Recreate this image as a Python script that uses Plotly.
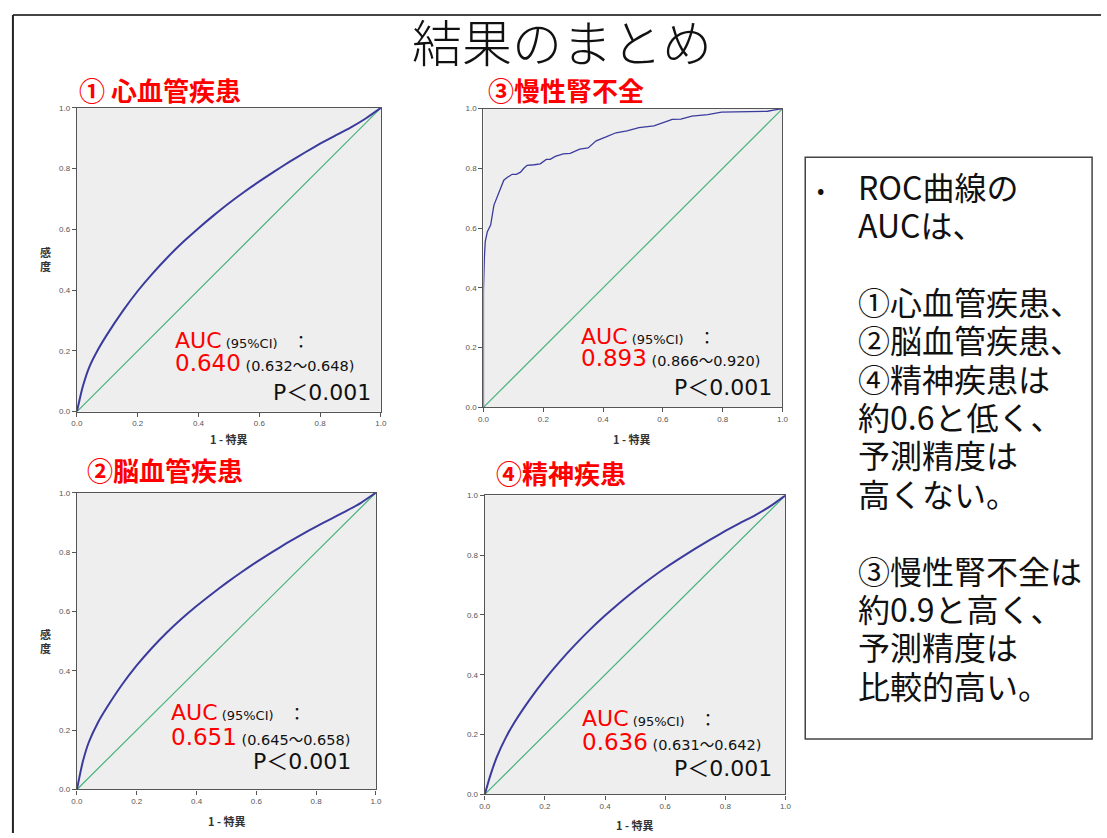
import plotly.graph_objects as go

W, H = 1107, 838

# ROC curves: 1 - specificity grid shared by the three smooth curves
fpr_grid = [0, 0.01, 0.02, 0.04, 0.07, 0.1, 0.15, 0.2, 0.25, 0.3, 0.35, 0.4, 0.45,
            0.5, 0.55, 0.6, 0.65, 0.7, 0.75, 0.8, 0.85, 0.9, 0.95, 1.0]
tpr_cvd = [0, 0.045, 0.085, 0.145, 0.205, 0.255, 0.33, 0.397, 0.456, 0.51, 0.559,
           0.604, 0.646, 0.686, 0.723, 0.758, 0.791, 0.823, 0.853, 0.882, 0.909,
           0.935, 0.965, 1.0]
tpr_cbv = [0, 0.05, 0.095, 0.16, 0.225, 0.276, 0.352, 0.418, 0.476, 0.528, 0.575,
           0.618, 0.658, 0.696, 0.732, 0.766, 0.798, 0.829, 0.858, 0.886, 0.912,
           0.938, 0.966, 1.0]
tpr_psy = [0, 0.035, 0.068, 0.125, 0.19, 0.243, 0.318, 0.385, 0.445, 0.5, 0.551,
           0.598, 0.642, 0.683, 0.721, 0.757, 0.79, 0.822, 0.852, 0.881, 0.908,
           0.934, 0.964, 1.0]

# chronic kidney disease curve (stepped empirical ROC)
fpr_ckd = [0, 0, 0.003, 0.006, 0.013, 0.024, 0.035, 0.052, 0.068, 0.08, 0.096, 0.11,
           0.124, 0.135, 0.146, 0.17, 0.19, 0.21, 0.223, 0.24, 0.267, 0.29, 0.322,
           0.35, 0.377, 0.41, 0.443, 0.48, 0.52, 0.57, 0.609, 0.62, 0.631, 0.66,
           0.697, 0.75, 0.796, 0.85, 0.9, 0.95, 0.97, 1.0]
tpr_ckd = [0, 0.39, 0.5, 0.555, 0.588, 0.61, 0.677, 0.72, 0.76, 0.77, 0.78, 0.78,
           0.787, 0.80, 0.81, 0.812, 0.815, 0.83, 0.83, 0.84, 0.848, 0.85, 0.864,
           0.868, 0.892, 0.905, 0.919, 0.925, 0.936, 0.942, 0.958, 0.96, 0.964,
           0.965, 0.975, 0.98, 0.988, 0.989, 0.99, 0.991, 0.995, 1.0]

titles = ["① 心血管疾患", "③慢性腎不全", "②脳血管疾患", "④精神疾患"]
auc = ["0.640", "0.893", "0.651", "0.636"]
ci = ["(0.632～0.648)", "(0.866～0.920)", "(0.645～0.658)", "(0.631～0.642)"]
pval = "P＜0.001"

summary_lines = ["ROC曲線の", "AUCは、", "", "①心血管疾患、", "②脳血管疾患、",
                 "④精神疾患は", "約0.6と低く、", "予測精度は", "高くない。", "",
                 "③慢性腎不全は", "約0.9と高く、", "予測精度は", "比較的高い。"]

curves = [(fpr_grid, tpr_cvd, "spline", 2.0), (fpr_ckd, tpr_ckd, "linear", 1.3),
          (fpr_grid, tpr_cbv, "spline", 2.0), (fpr_grid, tpr_psy, "spline", 2.0)]

# panel boxes in pixels: (left, right, top, bottom)
boxes = [(71.7, 379, 105, 412), (482.7, 785, 105.7, 407.7),
         (71.7, 374, 494, 794), (484, 788, 496.7, 799)]


def px(x):
    return x / W


def py(y):
    return 1 - y / H


CURVE = "#3b3b9e"
DIAG = "#47b27c"
JP = "Noto Sans CJK JP"
LAT = "DejaVu Sans, Noto Sans CJK JP"

fig = go.Figure()
layout = dict(width=W, height=H, margin=dict(l=0, r=0, t=0, b=0),
              paper_bgcolor="white", plot_bgcolor="#eeeeee", showlegend=False)

for i, ((fx, fy, shape, lw), (l, r, t, b)) in enumerate(zip(curves, boxes)):
    k = "" if i == 0 else str(i + 1)
    xa, ya = "x" + k, "y" + k
    fig.add_trace(go.Scatter(x=[0, 1], y=[0, 1], mode="lines", xaxis=xa, yaxis=ya,
                             line=dict(color=DIAG, width=1.2), hoverinfo="skip"))
    fig.add_trace(go.Scatter(x=fx, y=fy, mode="lines", xaxis=xa, yaxis=ya,
                             line=dict(color=CURVE, width=lw, shape=shape,
                                       smoothing=0.5)))
    axcommon = dict(range=[0, 1], showgrid=False, zeroline=False, showline=True,
                    mirror=True, linecolor="#555555", linewidth=1.3,
                    ticks="outside", ticklen=4, tickcolor="#555555",
                    tickvals=[0, 0.2, 0.4, 0.6, 0.8, 1.0], tickformat=".1f",
                    tickfont=dict(size=8, color="#555555", family="Liberation Sans"),
                    fixedrange=True)
    layout["xaxis" + k] = dict(axcommon, domain=[px(l), px(r)], anchor=ya)
    layout["yaxis" + k] = dict(axcommon, domain=[py(b), py(t)], anchor=xa)

fig.update_layout(**layout)

ann = []


def note(x, y, text, font, xanchor="left", yanchor="middle"):
    ann.append(dict(x=px(x), y=py(y), xref="paper", yref="paper", text=text,
                    showarrow=False, font=font, xanchor=xanchor, yanchor=yanchor,
                    borderpad=0, align="left"))


# slide title
note(562, 36, "結果のまとめ", dict(family=JP, size=50, color="#111111", weight=300),
     "center")

# panel headings
head_pos = [(73, 86), (486, 86), (81, 471), (494, 474)]
for (hx, hy), t in zip(head_pos, titles):
    note(hx, hy, "<b>" + t + "</b>", dict(family=JP, size=26, color="#ff0000"))

# AUC / CI / p-value text in each panel
auc_pos = [(170, 340, 363, 370, 393), (580, 336, 358, 775, 388),
           (166, 716, 741, 350, 766), (581, 722, 746, 775, 773)]
for (ax_, y1, y2, pr, py3), a, c in zip(auc_pos, auc, ci):
    note(ax_, y1,
         "<span style='color:#ff0000;font-size:22px'>AUC</span>"
         "<span style='font-size:13px'> (95%CI) </span>  ：",
         dict(family=LAT, size=17, color="#111111"))
    note(ax_, y2,
         f"<span style='color:#ff0000;font-size:23px'>{a}</span>"
         f"<span style='font-size:14.5px'> {c}</span>",
         dict(family=LAT, size=17, color="#111111"))
    note(pr, py3, pval, dict(family=LAT, size=22, color="#111111"), "right")

# axis titles
for (yx, yy) in [(40, 258), (40, 644)]:
    note(yx, yy, "<b>感<br>度</b>", dict(family=JP, size=11, color="#333333"), "center")
for (xx, xy) in [(225, 440), (633, 440), (223, 826), (636, 830)]:
    note(xx, xy, "<b>1 - 特異</b>", dict(family=JP, size=11, color="#333333"), "center")

# summary box: one block, 38.3 px line pitch (29.5 px base x 1.3), larger glyphs
note(823, 186, "•", dict(family=JP, size=22, color="#111111"), "center")
summary_text = "<br>".join(
    f"<span style='font-size:32px'>{line}</span>" if line else " "
    for line in summary_lines)
note(860, 160, summary_text, dict(family=JP, size=29.5, color="#111111"),
     "left", "top")

shapes = [
    dict(type="rect", xref="paper", yref="paper", x0=px(808), x1=px(1098),
         y0=py(743), y1=py(155), line=dict(color="#444444", width=1.5)),
    dict(type="line", xref="paper", yref="paper", x0=px(7), x1=1, y0=py(11),
         y1=py(11), line=dict(color="#444444", width=2)),
    dict(type="line", xref="paper", yref="paper", x0=px(7), x1=px(7), y0=py(11),
         y1=0, line=dict(color="#222222", width=2)),
]

fig.update_layout(annotations=ann, shapes=shapes)
fig.write_html("out.html")
